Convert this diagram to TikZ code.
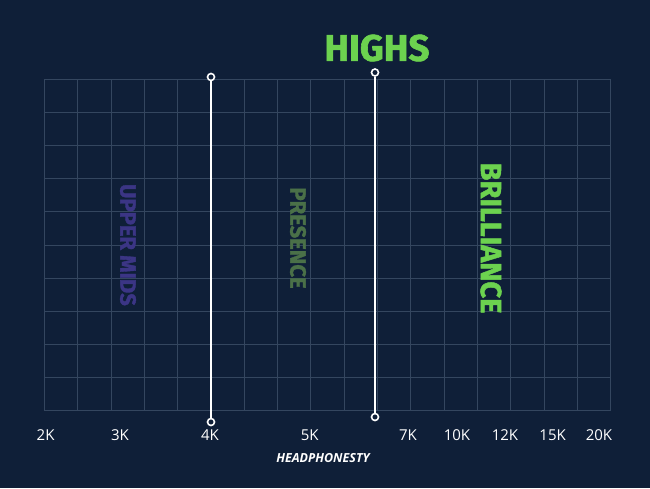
\documentclass[tikz,border=0pt]{standalone}
\usepackage{fontspec}
\setmainfont{Open Sans}
\newfontfamily\headfont{Fira Sans}[FakeBold=1.6]
\definecolor{bg}{HTML}{0F1F38}
\definecolor{gridc}{HTML}{34465F}
\definecolor{hi}{HTML}{6CD24F}
\definecolor{pres}{HTML}{4A7048}
\definecolor{umid}{HTML}{3B3585}
\tikzset{
  pin/.style={circle,draw=white,fill=bg,line width=1.6pt,inner sep=0pt,minimum size=7pt},
  marker/.style={draw=white,line width=2pt},
  tick/.style={text=white,font=\fontsize{15}{15}\selectfont,inner sep=0pt},
  band/.style={font=\headfont\bfseries\fontsize{22}{22}\selectfont,rotate=-90,inner sep=0pt},
  gridline/.style={gridc,line width=1.5pt}
}
\begin{document}
\begin{tikzpicture}[x=1pt,y=-1pt]
\fill[bg] (0,0) rectangle (650,488);
\useasboundingbox (0,0) rectangle (650,488);
% grid
\foreach \i in {0,...,17} \draw[gridline] ({round(44+\i*33.3)+0.5},79.5) -- ({round(44+\i*33.3)+0.5},410.5);
\foreach \j in {0,...,10} \draw[gridline] (44,{round(79+\j*33.1)+0.5}) -- (611,{round(79+\j*33.1)+0.5});
% markers
\node[pin] (a1) at (211,77) {};
\node[pin] (a2) at (211,422) {};
\node[pin] (b1) at (375,72.5) {};
\node[pin] (b2) at (375,417) {};
\draw[marker] (a1) -- (a2);
\draw[marker] (b1) -- (b2);
% title
\node[text=hi,font=\headfont\bfseries\fontsize{37}{37}\selectfont,inner sep=0pt] (highs) at (377,48) {HIGHS};
% bands
\node[band,text=umid] (um) at (128,245) {UPPER MIDS};
\node[band,text=pres] (pr) at (298,238) {PRESENCE};
\node[band,text=hi,font=\headfont\bfseries\fontsize{29}{29}\selectfont] (br) at (491,238) {BRILLIANCE};
% ticks
\node[tick] (t2) at (45.6,435) {2K};
\node[tick] (t3) at (120,435) {3K};
\node[tick] (t4) at (210,435) {4K};
\node[tick] (t5) at (309.7,435) {5K};
\node[tick] (t7) at (408,435) {7K};
\node[tick] (t10) at (457,435) {10K};
\node[tick] (t12) at (505,435) {12K};
\node[tick] (t15) at (552.6,435) {15K};
\node[tick] (t20) at (599,435) {20K};
\node[text=white,font=\bfseries\itshape\fontsize{12.5}{12.5}\selectfont,inner sep=0pt] (credit) at (323,458) {HEADPHONESTY};
\end{tikzpicture}
\end{document}
